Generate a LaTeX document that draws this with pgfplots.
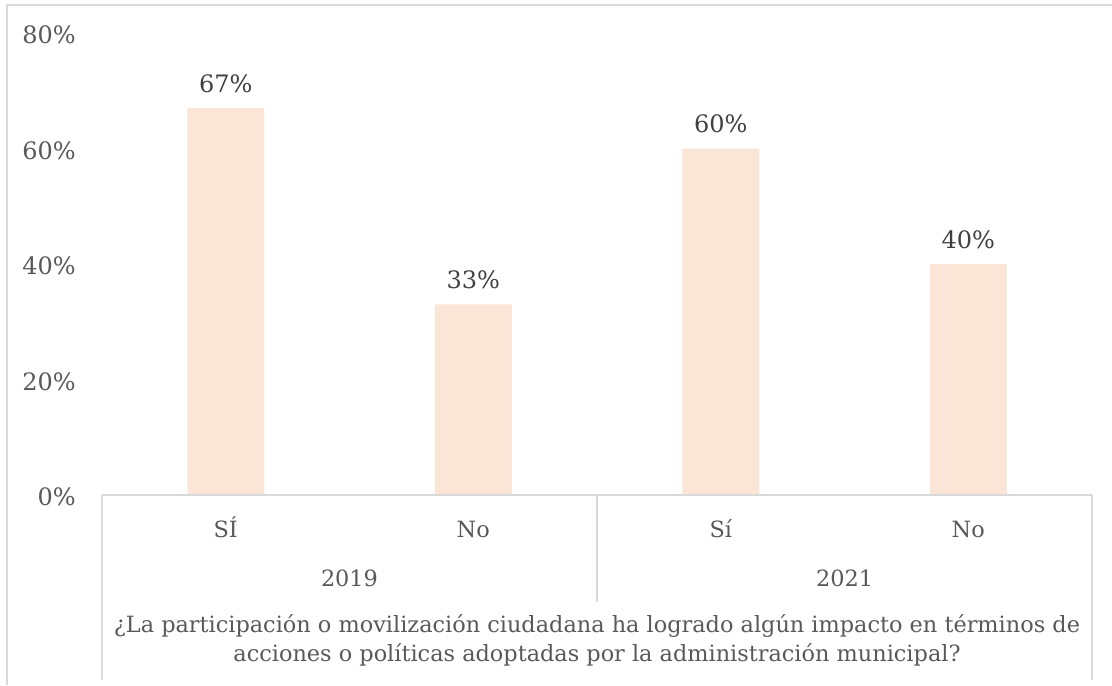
\documentclass[border=0pt]{standalone}
\usepackage{fontspec}
\setmainfont{DejaVu Serif}
\usepackage{pgfplots}
\pgfplotsset{compat=1.18}
\definecolor{barc}{HTML}{FBE5D6}
\definecolor{linec}{HTML}{D9D9D9}
\definecolor{txt}{HTML}{595959}
\definecolor{lbl}{HTML}{404040}
\newcommand{\cf}{\fontsize{11.2}{13}\selectfont}
\newcommand{\nf}{\fontsize{12}{14}\selectfont}
\begin{document}
\begin{tikzpicture}[x=1pt,y=1pt]
\path[use as bounding box] (0,0) rectangle (556,342.5);
\draw[linec, line width=0.75pt] (3.5,0) -- (3.5,340) -- (556,340);
\begin{axis}[
  at={(51pt,95pt)}, anchor=south west,
  scale only axis, width=495pt, height=231pt,
  xmin=-0.5, xmax=3.5, ymin=0, ymax=80,
  axis line style={draw=none},
  major tick length=0pt,
  xtick={0,1,2,3}, xticklabels={SÍ,No,Sí,No},
  ytick={0,20,40,60,80},
  yticklabel={\pgfmathprintnumber{\tick}\%},
  /pgf/number format/assume math mode=true,
  tick label style={text=txt, inner sep=0pt},
  xticklabel style={font=\cf, anchor=base, yshift=-21pt},
  yticklabel style={font=\nf, anchor=east, xshift=-13pt, yshift=-1pt},
  ybar, bar width=38.5pt,
  nodes near coords={\pgfmathprintnumber{\pgfplotspointmeta}\%},
  every node near coord/.append style={font=\nf, text=lbl, inner sep=0pt, yshift=7.5pt},
  clip=false,
]
\addplot[fill=barc, draw=none] coordinates {(0,67) (1,33) (2,60) (3,40)};
\end{axis}
\draw[linec, line width=0.75pt] (51,95) -- (546,95);
\draw[linec, line width=0.75pt] (51,95) -- (51,2.5);
\draw[linec, line width=0.75pt] (298.5,95) -- (298.5,41.5);
\draw[linec, line width=0.75pt] (546,95) -- (546,2.5);
\node[anchor=base, text=txt, font=\cf, inner sep=0pt] at (174.75,49) {2019};
\node[anchor=base, text=txt, font=\cf, inner sep=0pt] at (422.25,49) {2021};
\node[anchor=base, text=txt, font=\cf, inner sep=0pt] at (298.5,26.5) {¿La participación o movilización ciudadana ha logrado algún impacto en términos de};
\node[anchor=base, text=txt, font=\cf, inner sep=0pt] at (298.5,12) {acciones o políticas adoptadas por la administración municipal?};
\end{tikzpicture}
\end{document}
